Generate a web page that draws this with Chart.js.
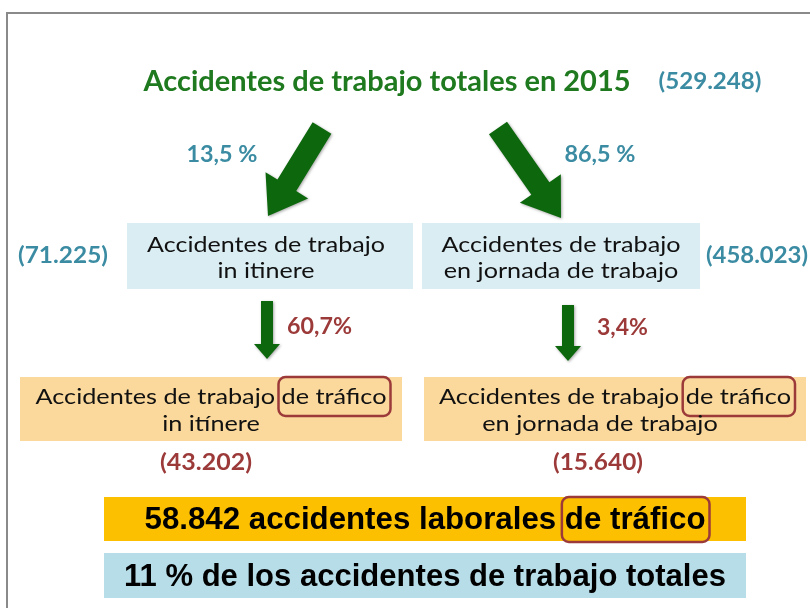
<!DOCTYPE html>
<html>
<head>
<meta charset="utf-8">
<script src="https://cdn.jsdelivr.net/npm/chart.js@4/dist/chart.umd.min.js"></script>
<style>
  body { margin: 0; background: #fff; }
  #flujo { display: block; }
</style>
</head>
<body>
<canvas id="flujo" width="810" height="608"></canvas>
<script>
// datos
const totalYear = 2015;
const totalAccidents = 529248;
const branchNames = ["in itinere", "en jornada de trabajo"];
const branchShares = [13.5, 86.5];
const branchAccidents = [71225, 458023];
const trafficNames = ["in itínere", "en jornada de trabajo"];
const trafficShares = [60.7, 3.4];
const trafficAccidents = [43202, 15640];
const trafficTotal = 58842;
const trafficShareOfTotal = 11;

function fmtInt(n) {
  return String(n).replace(/\B(?=(\d{3})+(?!\d))/g, ".");
}
function fmtDec(v) {
  return v.toFixed(1).replace(".", ",");
}

const GREEN = "#0d680d";
const TEAL = "#3b8ca3";
const MAROON = "#9c3a3a";
const CALI = "Lato, 'Open Sans', sans-serif";
const ARIAL = "'Liberation Sans', Arial, sans-serif";
const BOXFONT = "22px " + CALI;
const NUMFONT = "bold 22px " + CALI;

// layout of the diagram, in canvas units
const L = {
  title: { cx: 387, cy: 82, w: 487 },
  total: { cx: 710, cy: 82, w: 103 },
  diag: [
    { from: [322, 128], to: [268, 216] },
    { from: [498, 128], to: [561, 218] }
  ],
  branchPct: [{ cx: 222, cy: 155, w: 71 }, { cx: 600, cy: 155, w: 71 }],
  branchBox: [[127, 223, 413, 289], [422, 223, 700, 289]],
  branchText: [{ cx: 266, w: 238 }, { cx: 561, w: 239 }],
  branchCount: [{ cx: 63, cy: 256, w: 90 }, { cx: 757, cy: 256, w: 102 }],
  vert: [{ x: 267, y0: 301, y1: 359 }, { x: 568, y0: 305, y1: 361 }],
  trafficPct: [{ x: 287, cy: 327, w: 65 }, { x: 597, cy: 328, w: 51 }],
  trafficBox: [[20, 377, 402, 441], [424, 377, 806, 441]],
  trafficText: [{ cx: 211, w: 351 }, { cx: 615, w: 352 }],
  trafficLine2: [211, 600],
  trafficCount: [{ cx: 206, cy: 463, w: 92 }, { cx: 598, cy: 463, w: 90 }],
  sumBox: [[104, 497, 746, 541], [104, 553, 746, 598]],
  sumText: [{ cx: 425, cy: 520, w: 561 }, { cx: 425, cy: 577, w: 602 }]
};

function fitText(ctx, text, cx, cy, font, color, width) {
  ctx.font = font;
  const natural = ctx.measureText(text).width;
  const s = width ? width / natural : 1;
  ctx.save();
  ctx.translate(cx, cy);
  ctx.scale(s, 1);
  ctx.fillStyle = color;
  ctx.textAlign = "center";
  ctx.textBaseline = "middle";
  ctx.fillText(text, 0, 0);
  ctx.restore();
  return s;
}

function arrow(ctx, x0, y0, x1, y1, shaft, head, headLen) {
  const dx = x1 - x0, dy = y1 - y0;
  const len = Math.hypot(dx, dy);
  const ux = dx / len, uy = dy / len;
  const nx = -uy, ny = ux;
  const bx = x1 - ux * headLen, by = y1 - uy * headLen;
  ctx.beginPath();
  ctx.moveTo(x0 + nx * shaft / 2, y0 + ny * shaft / 2);
  ctx.lineTo(bx + nx * shaft / 2, by + ny * shaft / 2);
  ctx.lineTo(bx + nx * head / 2, by + ny * head / 2);
  ctx.lineTo(x1, y1);
  ctx.lineTo(bx - nx * head / 2, by - ny * head / 2);
  ctx.lineTo(bx - nx * shaft / 2, by - ny * shaft / 2);
  ctx.lineTo(x0 - nx * shaft / 2, y0 - ny * shaft / 2);
  ctx.closePath();
  ctx.save();
  ctx.shadowColor = "rgba(0,0,0,0.35)";
  ctx.shadowBlur = 3;
  ctx.shadowOffsetX = 1;
  ctx.shadowOffsetY = 1;
  ctx.fillStyle = GREEN;
  ctx.fill();
  ctx.restore();
}

function roundRect(ctx, x, y, w, h, r) {
  ctx.beginPath();
  ctx.moveTo(x + r, y);
  ctx.arcTo(x + w, y, x + w, y + h, r);
  ctx.arcTo(x + w, y + h, x, y + h, r);
  ctx.arcTo(x, y + h, x, y, r);
  ctx.arcTo(x, y, x + w, y, r);
  ctx.closePath();
}

// line of text with a framed "de tráfico"
function framedLine(ctx, prefix, mark, cx, cy, font, color, width, boxTop, boxBot) {
  ctx.font = font;
  const full = prefix + mark;
  const s = width / ctx.measureText(full).width;
  fitText(ctx, full, cx, cy, font, color, width);
  const left = cx - width / 2;
  const x0 = left + ctx.measureText(prefix).width * s - 3;
  const x1 = left + width + 4;
  ctx.save();
  ctx.strokeStyle = MAROON;
  ctx.lineWidth = 2.5;
  roundRect(ctx, x0, boxTop, x1 - x0, boxBot - boxTop, 7);
  ctx.stroke();
  ctx.restore();
  return s;
}

const diagramPlugin = {
  id: "diagrama",
  beforeDraw(chart) {
    const ctx = chart.ctx;
    ctx.save();
    ctx.fillStyle = "#fff";
    ctx.fillRect(0, 0, chart.width, chart.height);
    ctx.restore();
  },
  afterDraw(chart) {
    const ctx = chart.ctx;
    const xs = chart.scales.x, ys = chart.scales.y;
    const px = v => xs.getPixelForValue(v);
    const py = v => ys.getPixelForValue(v);
    const box = (b, color) => {
      ctx.fillStyle = color;
      ctx.fillRect(px(b[0]), py(b[1]), px(b[2]) - px(b[0]), py(b[3]) - py(b[1]));
    };

    ctx.save();
    // marco
    ctx.strokeStyle = "#8a8a8a";
    ctx.lineWidth = 2;
    ctx.beginPath();
    ctx.moveTo(px(7), py(610));
    ctx.lineTo(px(7), py(13));
    ctx.lineTo(px(812), py(13));
    ctx.stroke();

    fitText(ctx, "Accidentes de trabajo totales en " + totalYear, px(L.title.cx), py(L.title.cy),
      "bold 28px " + CALI, "#1f7a1f", L.title.w);
    fitText(ctx, "(" + fmtInt(totalAccidents) + ")", px(L.total.cx), py(L.total.cy), NUMFONT, TEAL, L.total.w);

    for (let i = 0; i < 2; i++) {
      const d = L.diag[i];
      arrow(ctx, px(d.from[0]), py(d.from[1]), px(d.to[0]), py(d.to[1]), 22, 50, 36);
      const bp = L.branchPct[i];
      fitText(ctx, fmtDec(branchShares[i]) + " %", px(bp.cx), py(bp.cy), NUMFONT, TEAL, bp.w);

      box(L.branchBox[i], "#daedf3");
      const bt = L.branchText[i];
      ctx.font = BOXFONT;
      const s = bt.w / ctx.measureText("Accidentes de trabajo").width;
      fitText(ctx, "Accidentes de trabajo", px(bt.cx), py(245), BOXFONT, "#111", bt.w);
      const l2 = branchNames[i];
      fitText(ctx, l2, px(bt.cx), py(271), BOXFONT, "#111", ctx.measureText(l2).width * s);

      const bc = L.branchCount[i];
      fitText(ctx, "(" + fmtInt(branchAccidents[i]) + ")", px(bc.cx), py(bc.cy), NUMFONT, TEAL, bc.w);

      const v = L.vert[i];
      arrow(ctx, px(v.x), py(v.y0), px(v.x), py(v.y1), 12, 26, 15);
      const tp = L.trafficPct[i];
      fitText(ctx, fmtDec(trafficShares[i]) + "%", px(tp.x + tp.w / 2), py(tp.cy), NUMFONT, MAROON, tp.w);

      box(L.trafficBox[i], "#fbd99c");
      const tt = L.trafficText[i];
      const s2 = framedLine(ctx, "Accidentes de trabajo ", "de tráfico", px(tt.cx), py(397),
        BOXFONT, "#111", tt.w, py(377), py(416));
      ctx.font = BOXFONT;
      const t2 = trafficNames[i];
      fitText(ctx, t2, px(L.trafficLine2[i]), py(424), BOXFONT, "#111", ctx.measureText(t2).width * s2);

      const tc = L.trafficCount[i];
      fitText(ctx, "(" + fmtInt(trafficAccidents[i]) + ")", px(tc.cx), py(tc.cy), NUMFONT, MAROON, tc.w);
    }

    // resumen
    box(L.sumBox[0], "#fdc000");
    box(L.sumBox[1], "#b7dde8");
    const st = L.sumText;
    framedLine(ctx, fmtInt(trafficTotal) + " accidentes laborales ", "de tráfico", px(st[0].cx), py(st[0].cy),
      "bold 31px " + ARIAL, "#000", st[0].w, py(497), py(542));
    fitText(ctx, trafficShareOfTotal + " % de los accidentes de trabajo totales", px(st[1].cx), py(st[1].cy),
      "bold 31px " + ARIAL, "#000", st[1].w);
    ctx.restore();
  }
};

new Chart(document.getElementById("flujo"), {
  type: "scatter",
  data: {
    datasets: [{
      label: "Accidentes",
      data: [],
      pointRadius: 0
    }]
  },
  options: {
    responsive: false,
    animation: false,
    layout: { padding: 0 },
    plugins: { legend: { display: false }, tooltip: { enabled: false } },
    scales: {
      x: { type: "linear", min: 0, max: 810, display: false },
      y: { type: "linear", min: 0, max: 608, reverse: true, display: false }
    }
  },
  plugins: [diagramPlugin]
});
</script>
</body>
</html>
